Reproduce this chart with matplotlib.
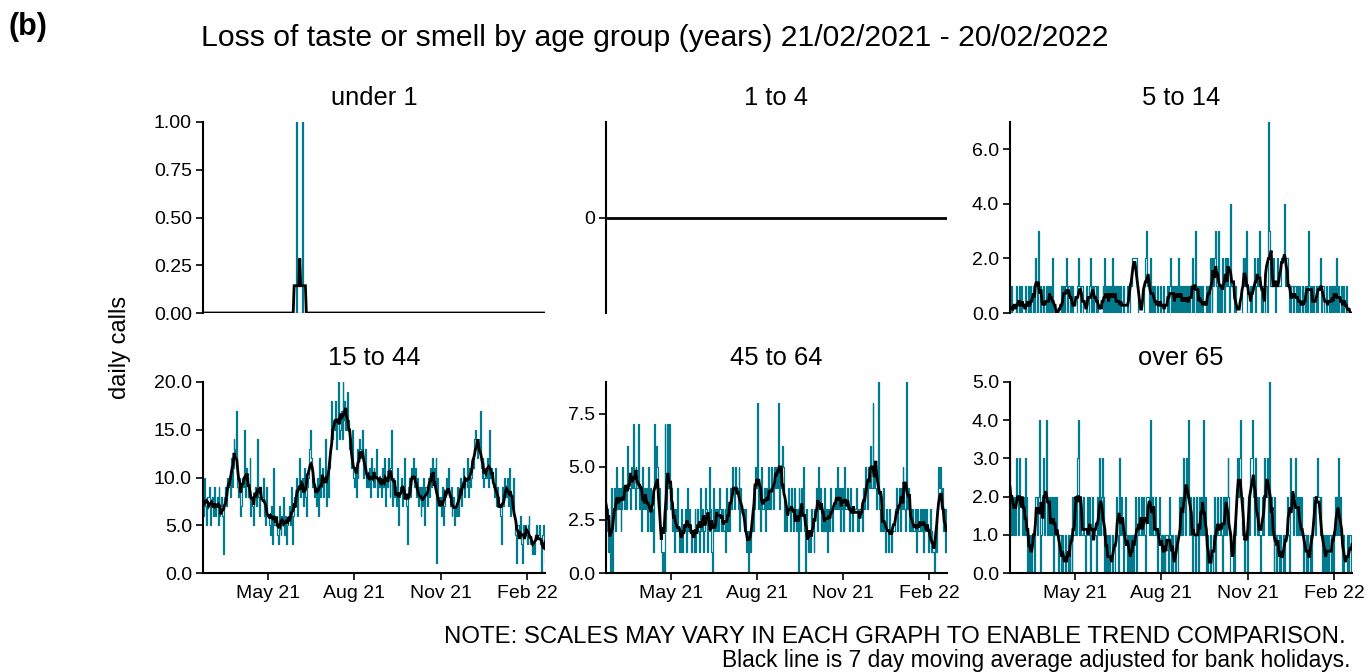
import numpy as np
import pandas as pd
import matplotlib
matplotlib.use("Agg")
import matplotlib.pyplot as plt
import matplotlib.dates as mdates

plt.rcParams["font.family"] = ["Liberation Sans", "DejaVu Sans"]

# ── 데이터 ────────────────────────────────────────────────────────────────
START_DATE = "2021-02-21"
N_DAYS = 365

PANEL_TITLES = ["under 1", "1 to 4", "5 to 14", "15 to 44", "45 to 64", "over 65"]

# under 1: 하루 1건 발생한 날(시작일 기준 일수), 나머지는 0
UNDER1_CALL_DAYS = [100, 106]
# 1 to 4: 전 기간 0건
AGE_1_4_CALL_DAYS = []

AGE_5_14 = [
    0, 0, 1, 0, 0, 0, 0,   1, 0, 0, 1, 0, 1, 0,   0, 0, 1, 0, 0, 0, 1,
    0, 1, 0, 0, 1, 0, 2,   1, 0, 3, 1, 0, 1, 0,   0, 1, 0, 0, 1, 0, 1,
    0, 1, 0, 2, 0, 0, 0,   0, 0, 0, 0, 0, 0, 1,   0, 1, 0, 1, 2, 0, 1,
    1, 0, 1, 0, 1, 0, 0,   0, 0, 1, 2, 1, 0, 1,   1, 0, 0, 0, 1, 0, 0,
    0, 1, 2, 0, 1, 0, 1,   1, 0, 1, 0, 0, 0, 0,   0, 1, 0, 2, 0, 1, 0,
    1, 0, 1, 0, 2, 0, 1,   0, 1, 0, 1, 0, 0, 1,   0, 0, 1, 0, 0, 0, 1,
    0, 0, 1, 1, 2, 2, 2,   2, 2, 2, 1, 0, 0, 0,   0, 0, 0, 1, 2, 3, 1,
    1, 0, 1, 2, 0, 1, 0,   1, 0, 0, 1, 0, 0, 1,   0, 0, 1, 0, 0, 0, 0,
    1, 0, 1, 2, 0, 1, 0,   1, 0, 1, 0, 2, 0, 1,   0, 1, 0, 1, 0, 1, 0,
    1, 0, 1, 0, 0, 2, 0,   1, 3, 0, 1, 0, 1, 0,   1, 0, 1, 0, 0, 0, 1,
    0, 1, 0, 2, 1, 0, 2,   1, 2, 3, 1, 0, 3, 0,   1, 0, 2, 1, 0, 2, 1,
    2, 2, 1, 0, 4, 1, 1,   1, 0, 1, 0, 0, 0, 0,   0, 0, 1, 2, 1, 2, 1,
    3, 0, 0, 0, 1, 0, 1,   1, 2, 0, 1, 2, 1, 1,   3, 1, 0, 1, 0, 0, 1,
    1, 0, 7, 3, 1, 1, 1,   2, 1, 1, 0, 1, 2, 1,   1, 1, 2, 2, 2, 4, 1,
    2, 2, 1, 0, 1, 0, 1,   1, 0, 1, 1, 0, 1, 0,   1, 0, 0, 1, 0, 0, 1,
    0, 1, 0, 3, 1, 0, 1,   0, 1, 0, 0, 1, 0, 1,   1, 2, 1, 0, 1, 1, 0,
    0, 1, 0, 0, 1, 0, 1,   0, 1, 0, 1, 0, 2, 0,   1, 0, 0, 1, 0, 1, 0,
    0, 1, 0, 0, 0, 0, 0,   0,
]

AGE_15_44 = [
    8, 6, 10, 7, 5, 8, 8,      9, 5, 7, 8, 6, 9, 6,       7, 8, 5, 9, 6, 7, 8,
    6, 2, 8, 9, 7, 10, 9,      10, 8, 12, 9, 11, 14, 13,  12, 17, 9, 8, 10, 6, 7,
    10, 9, 15, 8, 11, 10, 8,   9, 12, 6, 8, 7, 5, 8,      9, 7, 14, 8, 6, 9, 8,
    8, 10, 6, 7, 5, 9, 6,      6, 5, 4, 7, 3, 11, 5,      5, 6, 4, 3, 7, 5, 4,
    6, 5, 8, 4, 6, 3, 5,       6, 7, 5, 9, 3, 6, 8,       7, 8, 10, 6, 9, 12, 8,
    9, 10, 7, 11, 8, 6, 9,     10, 13, 15, 12, 11, 9, 10, 8, 9, 7, 10, 6, 12, 8,
    9, 11, 8, 10, 14, 7, 9,    10, 8, 11, 13, 18, 14, 16, 15, 18, 13, 16, 20, 14, 15,
    17, 14, 20, 16, 18, 15, 17, 19, 16, 13, 14, 11, 15, 10, 9, 11, 8, 13, 10, 12, 14,
    13, 12, 15, 10, 11, 13, 9, 10, 9, 11, 8, 12, 10, 9,    11, 9, 10, 13, 8, 10, 9,
    10, 8, 11, 9, 12, 7, 10,   9, 12, 10, 8, 11, 15, 7,   10, 8, 9, 7, 11, 5, 8,
    9, 10, 7, 8, 12, 9, 8,     7, 3, 9, 10, 8, 11, 10,    12, 9, 11, 8, 10, 7, 9,
    8, 6, 9, 7, 10, 5, 9,      9, 7, 10, 8, 11, 9, 12,    10, 11, 9, 12, 1, 10, 8,
    7, 8, 6, 9, 5, 7, 8,       10, 9, 11, 8, 7, 9, 6,     7, 8, 5, 7, 6, 9, 6,
    8, 10, 7, 9, 11, 8, 10,    10, 9, 12, 8, 11, 9, 10,   12, 11, 14, 15, 13, 12, 14,
    13, 17, 11, 10, 12, 9, 10, 11, 10, 12, 9, 15, 10, 11, 10, 9, 8, 11, 7, 9, 8,
    8, 7, 6, 3, 9, 7, 10,      9, 8, 10, 7, 11, 6, 8,     8, 10, 7, 6, 4, 1, 5,
    5, 4, 6, 3, 1, 5, 4,       5, 4, 3, 5, 6, 4, 3,       3, 2, 3, 2, 4, 5, 4,
    4, 5, 3, 0, 4, 5, 3,       1,
]

AGE_45_64 = [
    7, 2, 3, 1, 2, 0, 4,   0, 3, 4, 2, 5, 3, 4,   3, 4, 2, 3, 5, 4, 3,
    4, 3, 6, 4, 4, 3, 5,   4, 7, 4, 3, 5, 4, 4,   7, 3, 4, 2, 5, 3, 4,
    3, 4, 2, 5, 3, 2, 4,   2, 3, 1, 7, 4, 6, 5,   3, 4, 2, 1, 0, 1, 0,
    7, 2, 3, 7, 4, 7, 3,   4, 2, 3, 1, 3, 2, 4,   2, 1, 2, 1, 3, 1, 2,
    2, 3, 1, 4, 2, 3, 2,   1, 2, 2, 1, 3, 1, 2,   3, 2, 1, 4, 2, 3, 1,
    2, 4, 3, 1, 2, 5, 2,   3, 1, 0, 4, 2, 3, 2,   3, 2, 4, 3, 2, 3, 2,
    2, 3, 1, 4, 2, 3, 2,   4, 3, 5, 4, 3, 5, 4,   4, 3, 5, 2, 4, 3, 3,
    3, 2, 3, 1, 2, 0, 2,   1, 2, 3, 2, 4, 3, 5,   4, 8, 3, 4, 2, 5, 3,
    3, 4, 2, 4, 3, 5, 3,   4, 3, 5, 4, 3, 5, 4,   5, 4, 8, 3, 5, 4, 6,
    5, 4, 2, 3, 2, 3, 4,   3, 2, 4, 3, 2, 4, 3,   2, 3, 0, 4, 3, 2, 4,
    3, 5, 2, 0, 3, 2, 1,   2, 1, 3, 2, 2, 1, 3,   3, 4, 2, 5, 3, 4, 2,
    3, 2, 4, 2, 3, 1, 3,   3, 2, 4, 3, 2, 3, 3,   4, 3, 5, 3, 4, 2, 4,
    3, 4, 2, 5, 3, 3, 4,   3, 2, 4, 3, 2, 3, 3,   3, 4, 2, 3, 2, 3, 3,
    3, 2, 4, 3, 5, 4, 3,   5, 4, 6, 4, 4, 8, 4,   5, 4, 3, 4, 9, 3, 2,
    3, 2, 4, 2, 1, 3, 2,   2, 1, 3, 2, 1, 2, 2,   2, 3, 4, 2, 3, 4, 2,
    4, 3, 5, 4, 3, 2, 9,   3, 4, 2, 3, 2, 3, 2,   2, 3, 1, 2, 3, 2, 2,
    3, 2, 3, 1, 3, 2, 3,   2, 1, 2, 3, 1, 2, 1,   1, 0, 2, 1, 3, 5, 4,
    5, 3, 4, 2, 3, 1, 3,   1,
]

AGE_OVER_65 = [
    4, 2, 1, 2, 1, 2, 1,   3, 2, 1, 3, 2, 2, 1,   2, 1, 3, 1, 2, 0, 1,
    0, 1, 0, 1, 1, 0, 2,   2, 1, 2, 4, 0, 1, 1,   2, 3, 1, 2, 4, 1, 2,
    1, 2, 1, 2, 0, 2, 1,   2, 1, 1, 0, 1, 1, 0,   1, 0, 0, 1, 0, 0, 1,
    0, 1, 1, 0, 2, 1, 1,   2, 1, 3, 4, 1, 2, 1,   1, 2, 1, 0, 1, 2, 1,
    1, 2, 0, 1, 2, 1, 1,   1, 0, 2, 1, 3, 1, 2,   3, 1, 2, 0, 1, 0, 1,
    0, 1, 0, 0, 1, 0, 0,   1, 2, 1, 0, 2, 3, 1,   2, 1, 0, 1, 2, 1, 0,
    1, 0, 1, 0, 1, 0, 1,   1, 2, 0, 1, 2, 1, 1,   2, 1, 2, 1, 0, 2, 2,
    2, 1, 1, 4, 1, 2, 1,   1, 2, 1, 0, 1, 2, 1,   0, 1, 0, 1, 0, 1, 1,
    1, 0, 2, 1, 0, 1, 0,   0, 1, 0, 0, 1, 2, 1,   1, 2, 1, 3, 2, 1, 3,
    2, 4, 1, 2, 1, 0, 2,   1, 0, 2, 1, 1, 0, 2,   1, 2, 1, 4, 1, 2, 0,
    1, 0, 0, 1, 0, 0, 0,   1, 2, 0, 1, 2, 1, 1,   2, 1, 0, 2, 1, 2, 1,
    2, 3, 2, 1, 0, 0, 0,   1, 0, 1, 2, 3, 2, 3,   4, 2, 1, 2, 1, 0, 1,
    1, 0, 2, 1, 3, 3, 4,   2, 1, 3, 2, 1, 2, 1,   1, 0, 1, 2, 1, 3, 2,
    2, 3, 1, 5, 1, 2, 1,   1, 0, 2, 1, 0, 1, 1,   0, 1, 0, 0, 1, 0, 1,
    1, 2, 1, 0, 2, 3, 2,   2, 1, 2, 3, 1, 2, 1,   2, 1, 2, 1, 0, 1, 1,
    1, 0, 1, 0, 0, 1, 0,   1, 2, 2, 1, 2, 3, 2,   2, 1, 2, 1, 0, 1, 0,
    1, 0, 1, 0, 1, 1, 0,   1, 0, 1, 2, 1, 2, 1,   3, 1, 2, 1, 0, 1, 0,
    0, 0, 1, 0, 1, 1, 0,   1,
]

Y_LIMITS = [(0, 1), (-0.05, 0.05), (0, 7), (0, 20), (0, 9), (0, 5)]
Y_TICKS = [[0, 0.25, 0.5, 0.75, 1.0], [0], [0, 2, 4, 6],
           [0, 5, 10, 15, 20], [0, 2.5, 5, 7.5], [0, 1, 2, 3, 4, 5]]
Y_FMT = ["{:.2f}", "{:.0f}", "{:.1f}", "{:.1f}", "{:.1f}", "{:.1f}"]
X_TICK_DATES = ["2021-05-01", "2021-08-01", "2021-11-01", "2022-02-01"]

TEAL = "#007A8C"


def sparse_days(days):
    arr = np.zeros(N_DAYS)
    arr[days] = 1
    return arr


def main():
    dates = pd.date_range(START_DATE, periods=N_DAYS, freq="D")
    series = [sparse_days(UNDER1_CALL_DAYS), sparse_days(AGE_1_4_CALL_DAYS),
              np.array(AGE_5_14, float), np.array(AGE_15_44, float),
              np.array(AGE_45_64, float), np.array(AGE_OVER_65, float)]
    for s in series:
        assert len(s) == N_DAYS, len(s)

    W, H = 1368, 672
    fig = plt.figure(figsize=(W / 100, H / 100), dpi=100, facecolor="white")

    lefts = [203, 606, 1010]
    widths = [342, 341, 342]
    tops = [122, 382]
    ax_h = 191

    for k, vals in enumerate(series):
        r, c = divmod(k, 3)
        ax = fig.add_axes([lefts[c] / W, 1 - (tops[r] + ax_h) / H, widths[c] / W, ax_h / H])
        ma = pd.Series(vals).rolling(7, center=True, min_periods=1).mean()

        if k != 1:
            ax.step(dates, vals, where="mid", color=TEAL, lw=0.9, zorder=2)
        ax.plot(dates, ma.values, color="black", lw=2.0, zorder=3,
                solid_joinstyle="miter")

        ax.set_xlim(dates[0], dates[-1])
        ax.set_ylim(*Y_LIMITS[k])
        ax.set_yticks(Y_TICKS[k])
        ax.set_yticklabels([Y_FMT[k].format(t) for t in Y_TICKS[k]])

        for side in ("top", "right"):
            ax.spines[side].set_visible(False)
        ax.spines["left"].set_linewidth(1.5)
        ax.spines["bottom"].set_linewidth(1.5)
        ax.tick_params(axis="y", length=5, width=1.2, labelsize=14, pad=3)

        if r == 0:
            ax.spines["bottom"].set_visible(False)
            ax.set_xticks([])
        else:
            ax.set_xticks(pd.to_datetime(X_TICK_DATES))
            ax.xaxis.set_major_formatter(mdates.DateFormatter("%b %y"))
            ax.tick_params(axis="x", length=5, width=1.2, labelsize=14, pad=4)

        ax.text(0.5, 1.125, PANEL_TITLES[k], transform=ax.transAxes,
                ha="center", va="center", fontsize=18.4)

    fig.text(655 / W, 1 - 38 / H,
             "Loss of taste or smell by age group (years) 21/02/2021 - 20/02/2022",
             ha="center", va="center", fontsize=21.7)
    fig.text(9 / W, 1 - 27 / H, "(b)", ha="left", va="center",
             fontsize=22, fontweight="bold")
    fig.text(120 / W, 1 - 347 / H, "daily calls", rotation=90,
             ha="center", va="center", fontsize=17)
    fig.text(1346 / W, 1 - 637 / H,
             "NOTE: SCALES MAY VARY IN EACH GRAPH TO ENABLE TREND COMPARISON.",
             ha="right", va="center", fontsize=17.3)
    fig.text(1350 / W, 1 - 660 / H,
             "Black line is 7 day moving average adjusted for bank holidays.",
             ha="right", va="center", fontsize=16.4)

    fig.savefig("out.png", dpi=100, facecolor=fig.get_facecolor())


if __name__ == "__main__":
    main()
